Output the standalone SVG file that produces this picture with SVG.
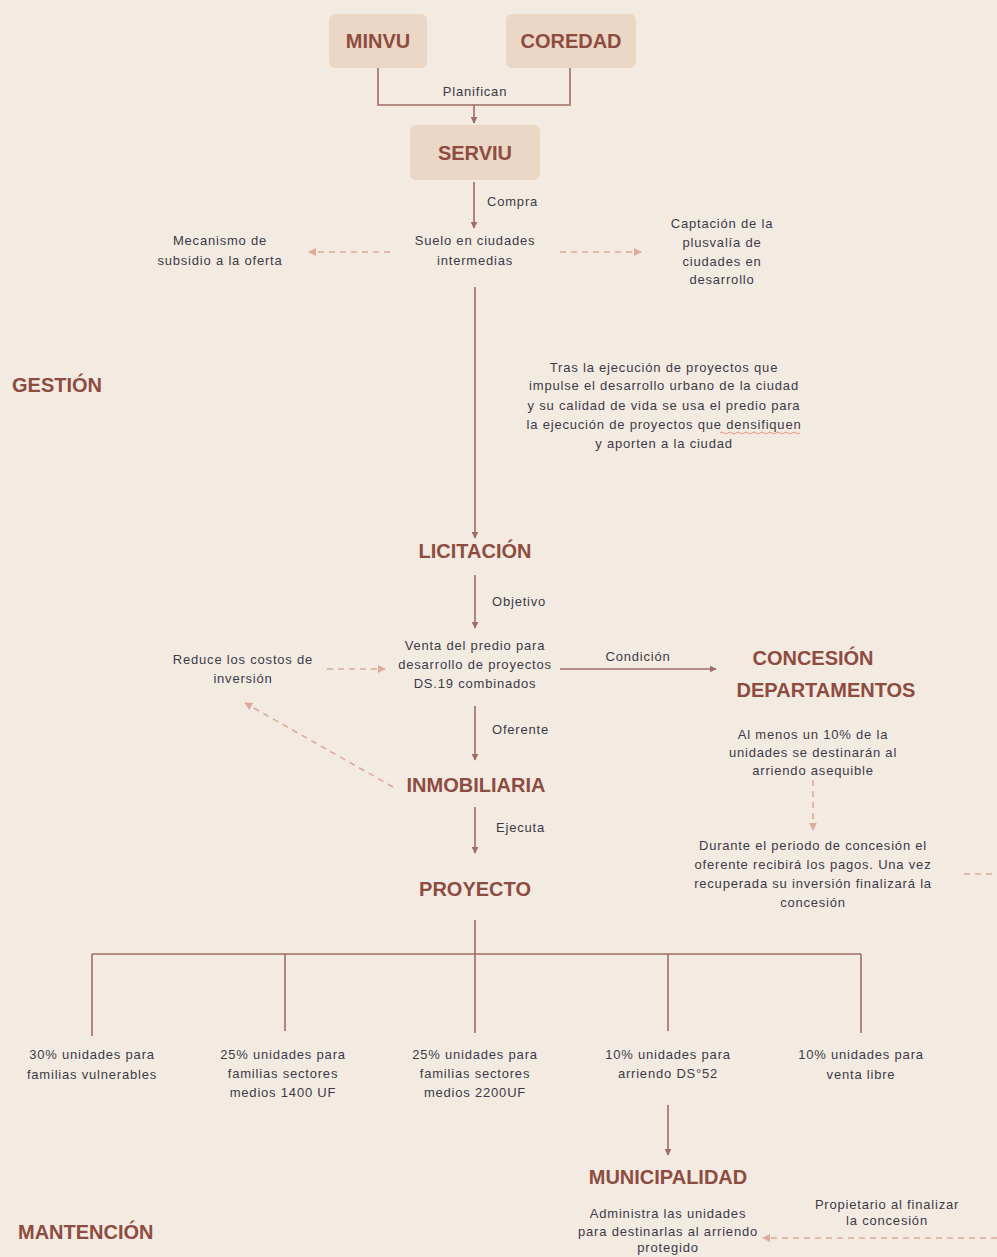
<svg xmlns="http://www.w3.org/2000/svg" width="997" height="1257" viewBox="0 0 997 1257">
<style>
.bg{fill:#f3ebe2}
.box{fill:#ebd7c6}
.t{font-family:"Liberation Sans",Arial,sans-serif;font-weight:bold;fill:#8e4b3f;font-size:20px;text-anchor:middle}
.s{font-family:"Liberation Sans",Arial,sans-serif;fill:#3c3a46;font-size:13px;letter-spacing:0.8px;text-anchor:middle}
.sl{text-anchor:start}
.ln{stroke:#9e6d64;stroke-width:1.6;fill:none}
.dl{stroke:#dcab9d;stroke-width:1.6;fill:none;stroke-dasharray:6 5}
</style>
<defs>
<marker id="ah" viewBox="0 0 10 10" refX="9" refY="5" markerWidth="7" markerHeight="7" markerUnits="userSpaceOnUse" orient="auto"><path d="M0,0 L10,5 L0,10 z" fill="#9e6d64"/></marker>
<marker id="ahd" viewBox="0 0 10 10" refX="9" refY="5" markerWidth="8" markerHeight="8" markerUnits="userSpaceOnUse" orient="auto"><path d="M0,0 L10,5 L0,10 z" fill="#dcab9d"/></marker>
</defs>
<rect class="bg" x="0" y="0" width="997" height="1257"/>

<g id="connectors">
<path class="ln" d="M378,68 V105 H570 V68"/>
<path class="ln" d="M474,105 V123" marker-end="url(#ah)"/>
<path class="ln" d="M474,182 V228" marker-end="url(#ah)"/>
<path class="dl" d="M390,252 H309" marker-end="url(#ahd)"/>
<path class="dl" d="M560,252 H641" marker-end="url(#ahd)"/>
<path class="ln" d="M475,287 V538" marker-end="url(#ah)"/>
<path class="ln" d="M475,575 V628" marker-end="url(#ah)"/>
<path class="ln" d="M560,669 H716" marker-end="url(#ah)"/>
<path class="dl" d="M327,669 H385" marker-end="url(#ahd)"/>
<path class="ln" d="M475,706 V760" marker-end="url(#ah)"/>
<path class="dl" d="M393,787 L245,703" marker-end="url(#ahd)"/>
<path class="ln" d="M475,807 V853" marker-end="url(#ah)"/>
<path class="dl" d="M813,780 V830" marker-end="url(#ahd)"/>
<path class="dl" d="M964,874 H997"/>
<path class="dl" d="M997,1238 H763" marker-end="url(#ahd)"/>
<path class="ln" d="M475,920 V954 M92,954 H861 M92,954 V1036 M285,954 V1031 M475,954 V1033 M668,954 V1031 M861,954 V1033"/>
<path class="ln" d="M668,1105 V1155" marker-end="url(#ah)"/>
<path d="M720,433 q2,-2 4,0 t4,0 t4,0 t4,0 t4,0 t4,0 t4,0 t4,0 t4,0 t4,0 t4,0 t4,0 t4,0 t4,0 t4,0 t4,0 t4,0 t4,0 t4,0 t4,0" stroke="#e07a6e" stroke-width="0.8" fill="none"/>
</g>

<g id="labels">
<text class="s" x="475" y="96">Planifican</text>
<text class="s sl" x="487" y="206">Compra</text>
<text class="s sl" x="492" y="606">Objetivo</text>
<text class="s" x="638" y="661">Condición</text>
<text class="s sl" x="492" y="734">Oferente</text>
<text class="s sl" x="496" y="832">Ejecuta</text>
</g>

<g id="minvu"><rect class="box" x="329" y="14" width="98" height="54" rx="6"/><text class="t" x="378" y="48">MINVU</text></g>
<g id="coredad"><rect class="box" x="506" y="14" width="130" height="54" rx="6"/><text class="t" x="571" y="48">COREDAD</text></g>
<g id="serviu"><rect class="box" x="410" y="125" width="130" height="55" rx="6"/><text class="t" x="475" y="160">SERVIU</text></g>

<g id="suelo"><text class="s" x="475" y="245">Suelo en ciudades</text><text class="s" x="475" y="265">intermedias</text></g>
<g id="mecanismo"><text class="s" x="220" y="245">Mecanismo de</text><text class="s" x="220" y="265">subsidio a la oferta</text></g>
<g id="captacion"><text class="s" x="722" y="228">Captación de la</text><text class="s" x="722" y="247">plusvalía de</text><text class="s" x="722" y="266">ciudades en</text><text class="s" x="722" y="284">desarrollo</text></g>
<g id="tras">
<text class="s" x="664" y="372">Tras la ejecución de proyectos que</text>
<text class="s" x="664" y="390">impulse el desarrollo urbano de la ciudad</text>
<text class="s" x="664" y="410">y su calidad de vida se usa el predio para</text>
<text class="s" x="664" y="429">la ejecución de proyectos que densifiquen</text>
<text class="s" x="664" y="448">y aporten a la ciudad</text>
</g>
<g id="gestion"><text class="t" x="12" y="392" style="text-anchor:start">GESTIÓN</text></g>
<g id="licitacion"><text class="t" x="475" y="558">LICITACIÓN</text></g>
<g id="venta"><text class="s" x="475" y="650">Venta del predio para</text><text class="s" x="475" y="669">desarrollo de proyectos</text><text class="s" x="475" y="688">DS.19 combinados</text></g>
<g id="reduce"><text class="s" x="243" y="664">Reduce los costos de</text><text class="s" x="243" y="683">inversión</text></g>
<g id="concesion"><text class="t" x="813" y="665">CONCESIÓN</text><text class="t" x="826" y="697">DEPARTAMENTOS</text></g>
<g id="almenos"><text class="s" x="813" y="739">Al menos un 10% de la</text><text class="s" x="813" y="757">unidades se destinarán al</text><text class="s" x="813" y="775">arriendo asequible</text></g>
<g id="durante"><text class="s" x="813" y="850">Durante el periodo de concesión el</text><text class="s" x="813" y="869">oferente recibirá los pagos. Una vez</text><text class="s" x="813" y="888">recuperada su inversión finalizará la</text><text class="s" x="813" y="907">concesión</text></g>
<g id="inmobiliaria"><text class="t" x="476" y="792">INMOBILIARIA</text></g>
<g id="proyecto"><text class="t" x="475" y="896">PROYECTO</text></g>
<g id="u30"><text class="s" x="92" y="1059">30% unidades para</text><text class="s" x="92" y="1079">familias vulnerables</text></g>
<g id="u25a"><text class="s" x="283" y="1059">25% unidades para</text><text class="s" x="283" y="1078">familias sectores</text><text class="s" x="283" y="1097">medios 1400 UF</text></g>
<g id="u25b"><text class="s" x="475" y="1059">25% unidades para</text><text class="s" x="475" y="1078">familias sectores</text><text class="s" x="475" y="1097">medios 2200UF</text></g>
<g id="u10a"><text class="s" x="668" y="1059">10% unidades para</text><text class="s" x="668" y="1078">arriendo DS°52</text></g>
<g id="u10b"><text class="s" x="861" y="1059">10% unidades para</text><text class="s" x="861" y="1079">venta libre</text></g>
<g id="municipalidad"><text class="t" x="668" y="1184">MUNICIPALIDAD</text></g>
<g id="administra"><text class="s" x="668" y="1218">Administra las unidades</text><text class="s" x="668" y="1236">para destinarlas al arriendo</text><text class="s" x="668" y="1252">protegido</text></g>
<g id="propietario"><text class="s" x="887" y="1209">Propietario al finalizar</text><text class="s" x="887" y="1225">la concesión</text></g>
<g id="mantencion"><text class="t" x="18" y="1239" style="text-anchor:start">MANTENCIÓN</text></g>
</svg>
